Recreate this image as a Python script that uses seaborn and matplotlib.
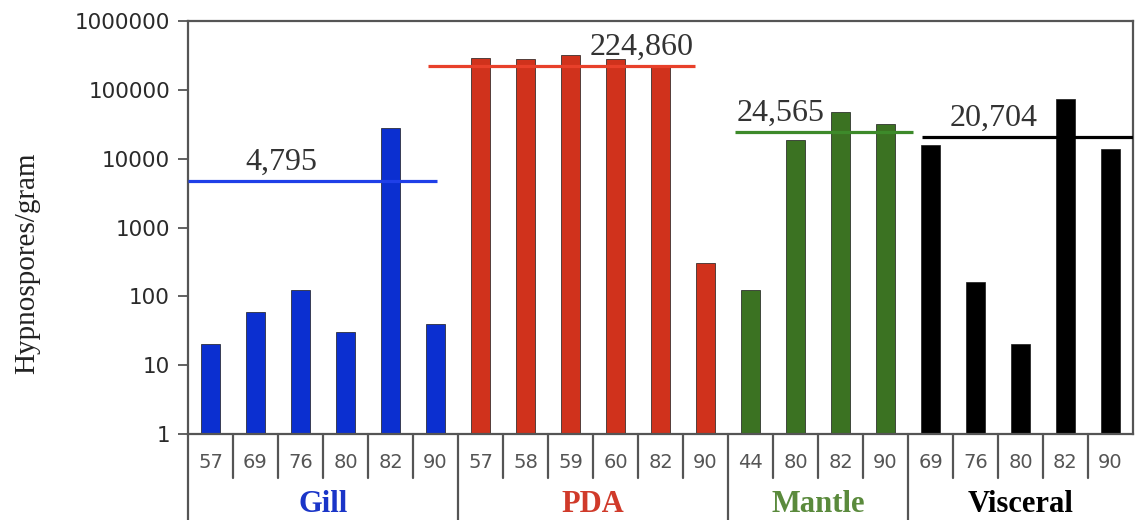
import numpy as np
import pandas as pd
import matplotlib
matplotlib.use("Agg")
import matplotlib.pyplot as plt
import matplotlib.ticker as mticker
import seaborn as sns

# ---- data ----
groups = ["Gill", "PDA", "Mantle", "Visceral"]
gill_ids = ["57", "69", "76", "80", "82", "90"]
gill_vals = [20, 60, 125, 30, 28000, 40]
pda_ids = ["57", "58", "59", "60", "82", "90"]
pda_vals = [290000, 283000, 316000, 283000, 225000, 310]
mantle_ids = ["44", "80", "82", "90"]
mantle_vals = [123, 18700, 48000, 32000]
visceral_ids = ["69", "76", "80", "82", "90"]
visceral_vals = [15900, 162, 20, 74000, 14000]
mean_vals = [4795, 224860, 24565, 20704]
mean_labels = ["4,795", "224,860", "24,565", "20,704"]
y_ticks = [1, 10, 100, 1000, 10000, 100000, 1000000]
y_label = "Hypnospores/gram"

bar_colors = ["#0b2fd0", "#d0321c", "#3b7222", "#000000"]
line_colors = ["#1f3fe8", "#e8402a", "#3d8a2a", "#000000"]
text_colors = ["#1a35c8", "#d03a2a", "#5a8a3c", "#000000"]

ids_list = [gill_ids, pda_ids, mantle_ids, visceral_ids]
vals_list = [gill_vals, pda_vals, mantle_vals, visceral_vals]

rows = []
for g, ids, vals in zip(groups, ids_list, vals_list):
    for i, v in zip(ids, vals):
        rows.append({"key": f"{g}-{i}", "group": g, "sid": i, "value": v})
df = pd.DataFrame(rows)
order = list(df["key"])
n = len(order)

sns.set_style("white")
plt.rcParams["font.family"] = ["DejaVu Sans"]
fig = plt.figure(figsize=(11.36, 5.2), dpi=100)
ax = fig.add_axes([188/1136, 1-434/520, (1133-188)/1136, (434-21)/520])
ax.set_yscale("log")
sns.barplot(data=df, x="key", y="value", hue="group", order=order,
            hue_order=groups, palette=dict(zip(groups, bar_colors)),
            saturation=1, dodge=False, width=0.42, legend=False, ax=ax,
            edgecolor="#1a1a1a", linewidth=0.5)
ax.set_ylim(1, 1e6)
ax.set_xlim(-0.5, n - 0.5)
ax.yaxis.set_major_locator(mticker.FixedLocator(y_ticks))
ax.yaxis.set_major_formatter(mticker.FixedFormatter([str(t) for t in y_ticks]))
ax.yaxis.set_minor_locator(mticker.NullLocator())
ax.tick_params(axis="y", which="major", direction="out", length=7, width=1.3,
               color="#555555", labelsize=15.5, labelcolor="#2a2a2a", pad=6, left=True)
ax.set_xticks([])
ax.set_xlabel("")
ax.set_ylabel("")
for s in ax.spines.values():
    s.set_visible(True)
    s.set_color("#555555")
    s.set_linewidth(1.6)

# mean lines and labels
starts = [0]
for ids in ids_list:
    starts.append(starts[-1] + len(ids))
line_spans = [(-0.5, 5.03), (4.83, 10.77), (11.66, 15.6), (15.8, 20.5)]
label_x = [0.77, 8.43, 11.7, 16.43]
for k in range(len(groups)):
    ax.plot(line_spans[k], [mean_vals[k]] * 2, color=line_colors[k], lw=2.3,
            zorder=5, solid_capstyle="butt")
    ax.annotate(mean_labels[k], (label_x[k], mean_vals[k]), xytext=(0, 3),
                textcoords="offset points", ha="left", va="bottom",
                fontsize=23, family="Liberation Serif", color="#333333", zorder=6)

# table beneath axis
tr = ax.get_xaxis_transform()
row1 = -44 / 413
row2 = -90 / 413
boundaries = [starts[1], starts[2], starts[3]]
for b in range(1, n):
    if b in boundaries:
        ax.plot([b - 0.5, b - 0.5], [0, row2], transform=tr, color="#555555",
                lw=1.6, clip_on=False)
    else:
        ax.plot([b - 0.5, b - 0.5], [0, row1], transform=tr, color="#555555",
                lw=1.6, clip_on=False)
ax.plot([-0.5, -0.5], [0, row2], transform=tr, color="#555555", lw=1.6, clip_on=False)

for i, sid in enumerate(df["sid"]):
    ax.text(i, -28 / 413, sid, transform=tr, ha="center", va="center",
            fontsize=14, color="#555555", family="DejaVu Sans")
for k, g in enumerate(groups):
    cx = (starts[k] + starts[k + 1] - 1) / 2
    ax.text(cx, -84.5 / 413, g, transform=tr, ha="center", va="bottom",
            fontsize=22, fontweight="bold", color=text_colors[k],
            family="Liberation Serif")

fig.text(27 / 1136, 1 - 263 / 520, y_label, rotation=90, ha="center",
         va="center", fontsize=21, family="Liberation Serif", color="#222222")

fig.savefig("out.png", dpi=100)
